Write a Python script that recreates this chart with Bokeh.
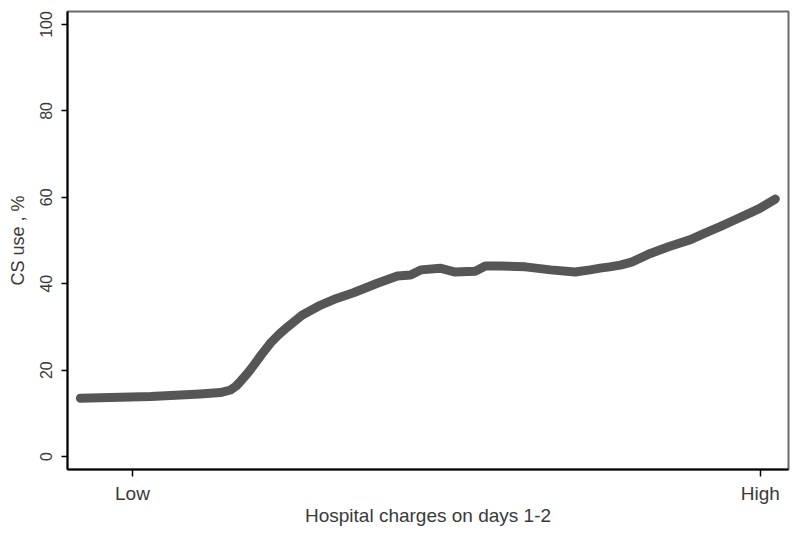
from bokeh.plotting import figure
from bokeh.models import Range1d, FixedTicker
from bokeh.embed import file_html
from bokeh.resources import INLINE

# Data (x: position along charge scale, 0 = Low, 100 = High; y: CS use %)
charge_pos = [-8.3, 2.9, 10.8, 14.0, 15.6, 16.5, 17.2, 18.3, 19.3, 20.5, 22.0,
              23.3, 24.7, 27.0, 29.9, 32.5, 35.2, 39.0, 42.2, 44.3, 45.9,
              49.0, 51.4, 54.6, 56.2, 58.6, 62.6, 66.6, 70.5, 72.9, 74.5,
              76.0, 77.7, 79.5, 82.5, 85.5, 88.9, 91.0, 93.6, 96.0, 98.4,
              100.0, 102.4]
cs_use = [13.5, 13.9, 14.5, 14.8, 15.4, 16.3, 17.4, 19.2, 21.1, 23.5, 26.3,
          28.2, 30.0, 32.7, 35.0, 36.6, 37.9, 40.1, 41.8, 42.0, 43.2,
          43.6, 42.7, 42.9, 44.1, 44.1, 43.9, 43.2, 42.7, 43.2, 43.6,
          43.9, 44.3, 45.0, 47.0, 48.6, 50.2, 51.6, 53.2, 54.8, 56.4,
          57.5, 59.6]
x_ticks = [0, 100]
x_tick_labels = ["Low", "High"]
y_ticks = [0, 20, 40, 60, 80, 100]

p = figure(width=796, height=532, output_backend="svg", toolbar_location=None,
           x_range=Range1d(-10.35, 104.5), y_range=Range1d(-3, 103),
           min_border_left=67, min_border_right=8, min_border_top=11, min_border_bottom=63)

p.line(charge_pos, cs_use, line_width=9, line_color="#565656", line_cap="round", line_join="round")

p.grid.visible = False
p.background_fill_color = "white"
p.border_fill_color = "white"
p.outline_line_color = "#6a6a6a"
p.outline_line_width = 2

TXT = "#3a3a3a"
FONT = "Liberation Sans"

xa = p.xaxis[0]
xa.ticker = FixedTicker(ticks=x_ticks)
xa.major_label_overrides = {x_ticks[i]: x_tick_labels[i] for i in range(len(x_ticks))}
xa.axis_label = "Hospital charges on days 1-2"
xa.axis_line_color = "black"
xa.axis_line_width = 2
xa.major_tick_line_color = "black"
xa.major_tick_line_width = 1.5
xa.major_tick_out = 7
xa.major_tick_in = 0
xa.minor_tick_line_color = None
xa.major_label_text_font = FONT
xa.major_label_text_font_size = "19px"
xa.major_label_text_color = TXT
xa.major_label_standoff = 6
xa.axis_label_text_font = FONT
xa.axis_label_text_font_size = "19px"
xa.axis_label_text_font_style = "normal"
xa.axis_label_text_color = TXT
xa.axis_label_standoff = -2

ya = p.yaxis[0]
ya.ticker = FixedTicker(ticks=y_ticks)
ya.axis_label = "CS use , %"
ya.axis_line_color = "black"
ya.axis_line_width = 2
ya.major_tick_line_color = "black"
ya.major_tick_line_width = 1.5
ya.major_tick_out = 6
ya.major_tick_in = 0
ya.minor_tick_line_color = None
ya.major_label_orientation = "vertical"
ya.major_label_text_font = FONT
ya.major_label_text_font_size = "16px"
ya.major_label_text_color = TXT
ya.major_label_standoff = 9
ya.axis_label_text_font = FONT
ya.axis_label_text_font_size = "18px"
ya.axis_label_text_font_style = "normal"
ya.axis_label_text_color = TXT
ya.axis_label_standoff = 10

open("out.html", "w").write(file_html(p, INLINE))
